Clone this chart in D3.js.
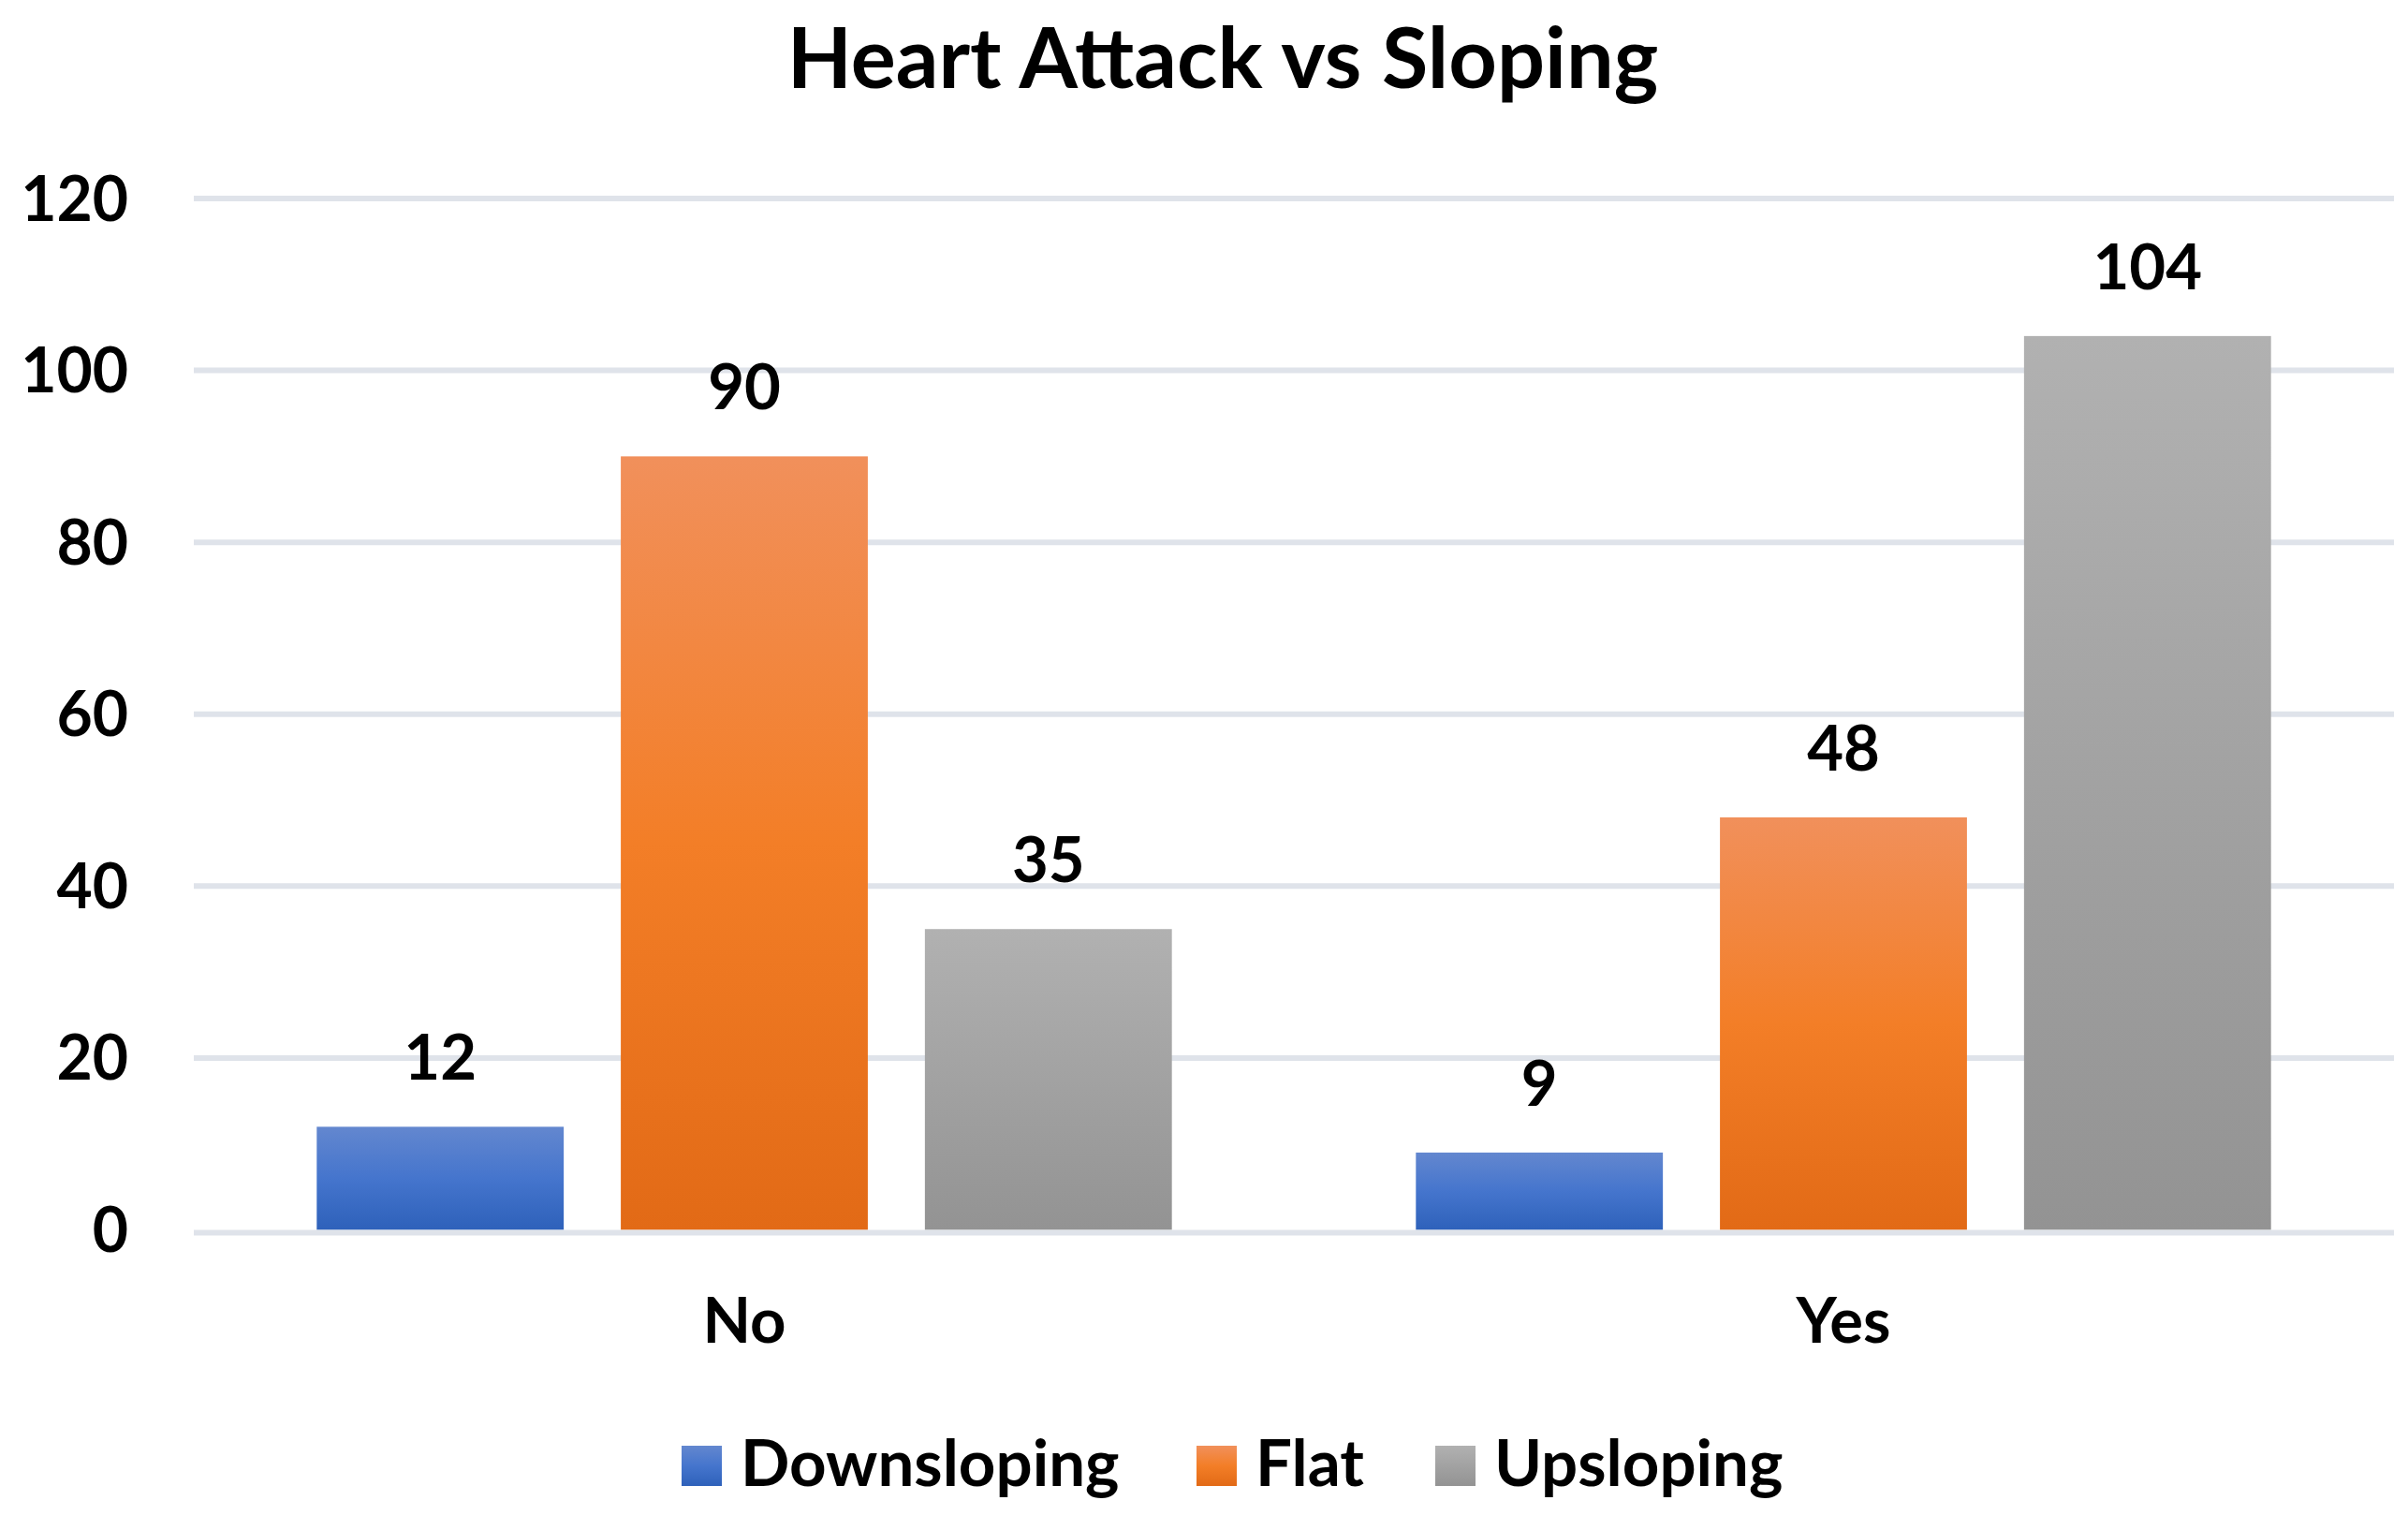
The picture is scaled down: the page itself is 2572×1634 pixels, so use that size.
<!DOCTYPE html>
<html>
<head>
<meta charset="utf-8">
<script src="https://cdn.jsdelivr.net/npm/d3@7"></script>
<style>
  html, body { margin: 0; padding: 0; background: #ffffff; }
  svg { display: block; }
  text { font-family: "Lato", "Open Sans", "Noto Sans", sans-serif; font-weight: 700; fill: #000; }
</style>
</head>
<body>
<script>
// ---- data ----
const title = "Heart Attack vs Sloping";
const categories = ["No", "Yes"];
const seriesNames = ["Downsloping", "Flat", "Upsloping"];
const downsloping = [12, 9];
const flat = [90, 48];
const upsloping = [35, 104];
const yTicks = [0, 20, 40, 60, 80, 100, 120];

const seriesValues = [downsloping, flat, upsloping];
const gradientStops = [
  [["0%", "#6387cf"], ["50%", "#4575cd"], ["100%", "#2e61ba"]],
  [["0%", "#f1905b"], ["50%", "#f37e27"], ["100%", "#e26a16"]],
  [["0%", "#b1b1b1"], ["50%", "#a2a2a2"], ["100%", "#939393"]]
];

const W = 2572, H = 1634;
const plotLeft = 208, plotRight = 2556, plotTop = 212, plotBottom = 1313.5;

const svg = d3.select("body").append("svg").attr("width", W).attr("height", H);

const defs = svg.append("defs");
seriesNames.forEach((s, i) => {
  const g = defs.append("linearGradient").attr("id", "grad" + i)
    .attr("x1", 0).attr("y1", 0).attr("x2", 0).attr("y2", 1);
  gradientStops[i].forEach(st => g.append("stop").attr("offset", st[0]).attr("stop-color", st[1]));
});

const y = d3.scaleLinear().domain([0, 120]).range([plotBottom, plotTop]);
const x0 = d3.scaleBand().domain(categories).range([plotLeft, plotRight])
  .paddingInner(0.222).paddingOuter(0.111);
const x1 = d3.scaleBand().domain(seriesNames).range([0, x0.bandwidth()])
  .paddingInner(0.1877).paddingOuter(0);

// title
svg.append("text").attr("x", 1306).attr("y", 94).attr("text-anchor", "middle")
  .style("font-size", "90px").text(title);

// gridlines
svg.append("g").selectAll("line").data(yTicks.filter(d => d !== 0)).join("line")
  .attr("x1", plotLeft - 1).attr("x2", plotRight + 1)
  .attr("y1", d => y(d)).attr("y2", d => y(d))
  .attr("stroke", "#dfe3ea").attr("stroke-width", 6);

// y axis labels
const yAxis = d3.axisLeft(y).tickValues(yTicks).tickSize(0).tickPadding(71);
const yg = svg.append("g").attr("transform", `translate(${plotLeft},0)`).call(yAxis);
yg.select(".domain").remove();
yg.selectAll("text").attr("dy", null).attr("dominant-baseline", null)
  .attr("y", 23).style("font-size", "66px").style("font-family", null).attr("fill", "#000");

// bars
const groups = svg.append("g").selectAll("g").data(categories).join("g")
  .attr("transform", c => `translate(${x0(c)},0)`);
groups.selectAll("rect").data((c, ci) => seriesNames.map((s, si) => ({s, si, v: seriesValues[si][ci]})))
  .join("rect")
  .attr("x", d => x1(d.s)).attr("width", x1.bandwidth())
  .attr("y", d => y(d.v)).attr("height", d => y(0) - y(d.v))
  .attr("fill", d => `url(#grad${d.si})`);
groups.selectAll("text.lbl").data((c, ci) => seriesNames.map((s, si) => ({s, si, v: seriesValues[si][ci]})))
  .join("text").attr("class", "lbl")
  .attr("x", d => x1(d.s) + x1.bandwidth() / 2).attr("y", d => y(d.v) - 50)
  .attr("text-anchor", "middle").style("font-size", "67px").text(d => d.v);

// zero baseline
svg.append("line").attr("x1", plotLeft - 1).attr("x2", plotRight + 1)
  .attr("y1", y(0) + 3).attr("y2", y(0) + 3)
  .attr("stroke", "#dfe3ea").attr("stroke-width", 6);

// category labels
const xAxis = d3.axisBottom(x0).tickSize(0).tickPadding(0);
const xg = svg.append("g").call(xAxis);
xg.select(".domain").remove();
xg.selectAll("text").attr("dy", null).attr("y", 1434)
  .style("font-size", "67px").style("font-family", null).attr("fill", "#000");

// legend
const legendX = [728, 1278, 1533];
const legend = svg.append("g").selectAll("g").data(seriesNames).join("g")
  .attr("transform", (d, i) => `translate(${legendX[i]},1544)`);
legend.append("rect").attr("width", 43).attr("height", 43)
  .attr("fill", (d, i) => `url(#grad${i})`);
legend.append("text").attr("x", 63).attr("y", 43).style("font-size", "69px").text(d => d);
</script>
</body>
</html>
